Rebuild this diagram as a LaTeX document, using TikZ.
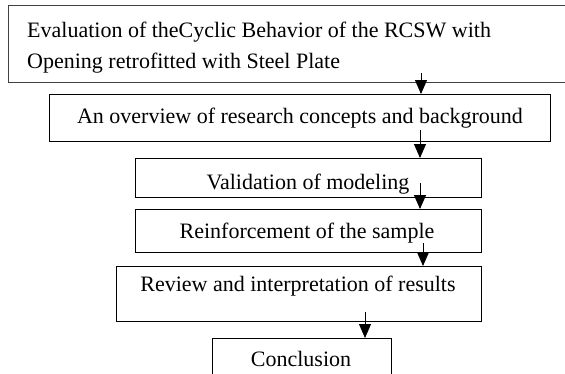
\documentclass[tikz,border=0pt]{standalone}
\usepackage{fontspec}
\setmainfont{Liberation Serif}
\usetikzlibrary{arrows.meta}
\begin{document}
\begin{tikzpicture}[x=1pt,y=-1pt,
  box/.style={draw=black,line width=1pt,rectangle,inner sep=0pt,anchor=north west},
  lbl/.style={font=\fontsize{22}{25.3}\selectfont,inner sep=0pt,anchor=base},
  arr/.style={line width=0.9pt,-{Triangle[width=12pt,length=14pt]}}]
\useasboundingbox (0,0) rectangle (565,373);
\fill[white] (0,0) rectangle (565,373);
% boxes
\node[box,draw=black!75,minimum width=567pt,minimum height=77pt] (b1) at (8,5) {};
\node[box,minimum width=501pt,minimum height=47pt] (b2) at (49,94) {};
\node[box,minimum width=346pt,minimum height=39pt] (b3) at (135,158) {};
\node[box,minimum width=346pt,minimum height=43pt] (b4) at (135,209) {};
\node[box,minimum width=365pt,minimum height=55pt] (b5) at (116,266) {};
\node[box,minimum width=179pt,minimum height=45pt] (b6) at (212,338) {};
% texts
\node[lbl,anchor=base west] (t1a) at (27,37) {Evaluation of theCyclic Behavior of the RCSW with};
\node[lbl,anchor=base west] (t1b) at (27,68) {Opening retrofitted with Steel Plate};
\node[lbl] (t2) at (300,123) {An overview of research concepts and background};
\begin{scope}
\clip ([yshift=-1pt]b3.north west) rectangle ([yshift=4pt]b3.south east);
\node[lbl] (t3) at (308,189) {Validation of modeling};
\end{scope}
\node[lbl] (t4) at (307,238) {Reinforcement of the sample};
\node[lbl] (t5) at (298,291) {Review and interpretation of results};
\node[lbl] (t6) at (301,366) {Conclusion};
% arrows
\coordinate (s1) at (421,73);
\coordinate (s2) at (420,130);
\coordinate (s3) at (420,183);
\coordinate (s4) at (423,243);
\coordinate (s5) at (365,312);
\draw[arr] (s1) -- (s1 |- b2.north);
\draw[arr] (s2) -- (s2 |- b3.north);
\draw[arr] (s3) -- (s3 |- b4.north);
\draw[arr] (s4) -- (s4 |- b5.north);
\draw[arr] (s5) -- (s5 |- b6.north);
\end{tikzpicture}
\end{document}
